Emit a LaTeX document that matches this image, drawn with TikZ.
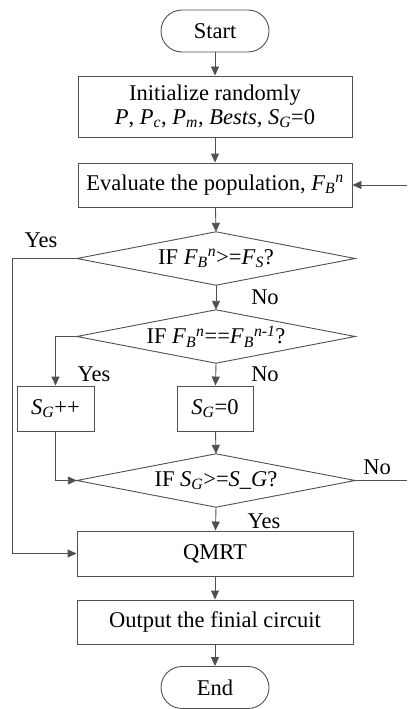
\documentclass[tikz,border=0pt]{standalone}
\usepackage{fontspec}
\setmainfont{Liberation Serif}
\usetikzlibrary{arrows.meta}
\newcommand{\iv}[1]{\textit{#1}}
\newcommand{\FBn}{\iv{F}\textsubscript{\iv{B}}\textsuperscript{\iv{n}}}
\newcommand{\SGx}{\iv{S}\textsubscript{\iv{G}}}
\definecolor{ln}{HTML}{505050}
\begin{document}
\begin{tikzpicture}[x=1pt,y=-1pt,
  font=\fontsize{22.5}{26}\selectfont,
  every node/.style={inner sep=0pt,align=center},
  box/.style={draw=ln,line width=0.9pt,rectangle},
  term/.style={draw=ln,line width=0.9pt,rectangle,rounded corners=21pt,minimum width=108pt,minimum height=42pt},
  dia/.style={rectangle,minimum width=278pt,minimum height=53pt},
  lab/.style={},
  arr/.style={draw=ln,line width=0.9pt,-{Triangle[length=9pt,width=8pt]}},
  ln/.style={draw=ln,line width=0.9pt}]
\useasboundingbox (0,0) rectangle (407,709);
\node[term] (start) at (215,31) {Start};
\node[box,minimum width=274pt,minimum height=61pt] (init) at (215,106.5) {Initialize randomly\\[-2pt]\iv{P}, \iv{P}\textsubscript{\iv{c}}, \iv{P}\textsubscript{\iv{m}}, \iv{Bests}, \SGx=0};
\node[box,minimum width=274pt,minimum height=44pt] (eval) at (215,185) {Evaluate the population, \FBn};
\node[dia] (d1) at (216,258.5) {IF \FBn>=\iv{F}\textsubscript{\iv{S}}?};
\node[dia] (d2) at (216,336.5) {IF \FBn==\iv{F}\textsubscript{\iv{B}}\textsuperscript{\iv{n-1}}?};
\node[box,minimum width=77pt,minimum height=45pt] (sgpp) at (55.5,408.5) {\SGx++};
\node[box,minimum width=76pt,minimum height=45pt] (sg0) at (215,408.5) {\SGx=0};
\node[dia] (d3) at (216,480.5) {IF \SGx>=\iv{S\_G}?};
\node[box,minimum width=276pt,minimum height=45pt] (qmrt) at (215,553.5) {QMRT};
\node[box,minimum width=276pt,minimum height=44pt] (out) at (215,622) {Output the finial circuit};
\node[term] (end) at (215,687.5) {End};
\foreach \d in {d1,d2,d3}
  \draw[ln] (\d.north) -- (\d.east) -- (\d.south) -- (\d.west) -- cycle;
\coordinate (rin) at (407,185);
\coordinate (rout) at (407,480.5);
\coordinate (lx) at (12,0);
\draw[arr] (start) -- (init);
\draw[arr] (init) -- (eval);
\draw[arr] (rin) -- (eval.east);
\draw[arr] (eval) -- (d1.north);
\draw[arr] (d1.south) -- (d2.north);
\draw[arr] (d2.south) -- (sg0);
\draw[arr] (d2.west) -| (sgpp.north);
\draw[arr] (sg0) -- (d3.north);
\draw[arr] (sgpp.south) |- (d3.west);
\draw[ln] (d3.east) -- (rout);
\draw[arr] (d1.west) -- (d1.west -| lx) |- (qmrt.west);
\draw[arr] (d3.south) -- (qmrt);
\draw[arr] (qmrt) -- (out);
\draw[arr] (out) -- (end);
\node[lab] (y1) at (41,240) {Yes};
\node[lab] (n1) at (265,297) {No};
\node[lab] (y2) at (94,374) {Yes};
\node[lab] (n2) at (265,374) {No};
\node[lab] (n3) at (377,467) {No};
\node[lab] (y3) at (264,521) {Yes};
\end{tikzpicture}
\end{document}
